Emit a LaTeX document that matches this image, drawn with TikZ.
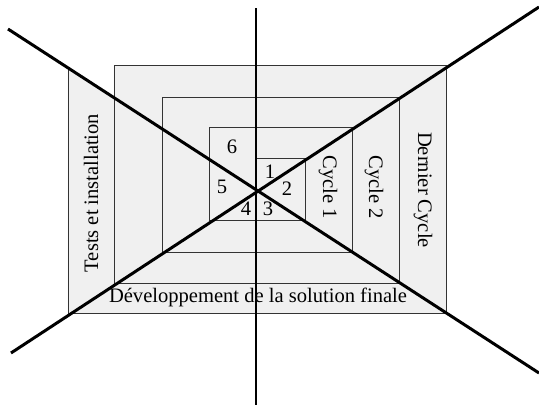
\documentclass[tikz,border=0pt]{standalone}
\usepackage{fontspec}
\setmainfont{Liberation Serif}
\usetikzlibrary{positioning}

\begin{document}
\begin{tikzpicture}[
    x=0.02cm, y=-0.02cm,
    box/.style={draw=black!80, line width=0.5pt},
    axis/.style={draw=black, line width=0.9pt},
    cross/.style={draw=black, line width=1.7pt},
    lbl/.style={font=\fontsize{11.7}{14}\selectfont, inner sep=0pt}
]
\useasboundingbox (0,0) rectangle (539,407);

% Background
\fill[black!6] (68,68) -- (114,97) -- (114,65) -- (446,65) -- (446,313) -- (68,313) -- cycle;

% Boxes (outer to inner)
\draw[box] (114,283) -- (114,65) -- (446,65) -- (446,313) -- (68,313) -- (68,68);
\draw[box] (114,283) -- (399,283) -- (399,97) -- (162,97) -- (162,252);
\draw[box] (162,252) -- (352,252) -- (352,127) -- (209,127) -- (209,220);
\draw[box] (209,220) -- (305,220) -- (305,158) -- (256,158);

% Labels
\node[lbl, rotate=90] (tests) at (91,193) {Tests et installation};
\node[lbl, rotate=-90] (dernier) at (423,190) {Dernier Cycle};
\node[lbl, rotate=-90] (cycle2) at (374,187) {Cycle 2};
\node[lbl, rotate=-90] (cycle1) at (328,187) {Cycle 1};
\node[lbl] (dev) at (258,297) {Développement de la solution finale};

\node[lbl] (n1) at (270,172) {1};
\node[lbl] (n2) at (287,189) {2};
\node[lbl] (n3) at (268,209) {3};
\node[lbl] (n4) at (246,209) {4};
\node[lbl] (n5) at (222,187) {5};
\node[lbl] (n6) at (232,147) {6};

% Axes
\coordinate (top) at (256,8);
\coordinate (bottom) at (256,405);
\coordinate (nw) at (8,29);
\coordinate (se) at (539,373);
\coordinate (sw) at (11,353);
\coordinate (ne) at (539,7);

\draw[axis] (top) -- (bottom);
\draw[cross] (nw) -- (se);
\draw[cross] (sw) -- (ne);

\end{tikzpicture}
\end{document}
